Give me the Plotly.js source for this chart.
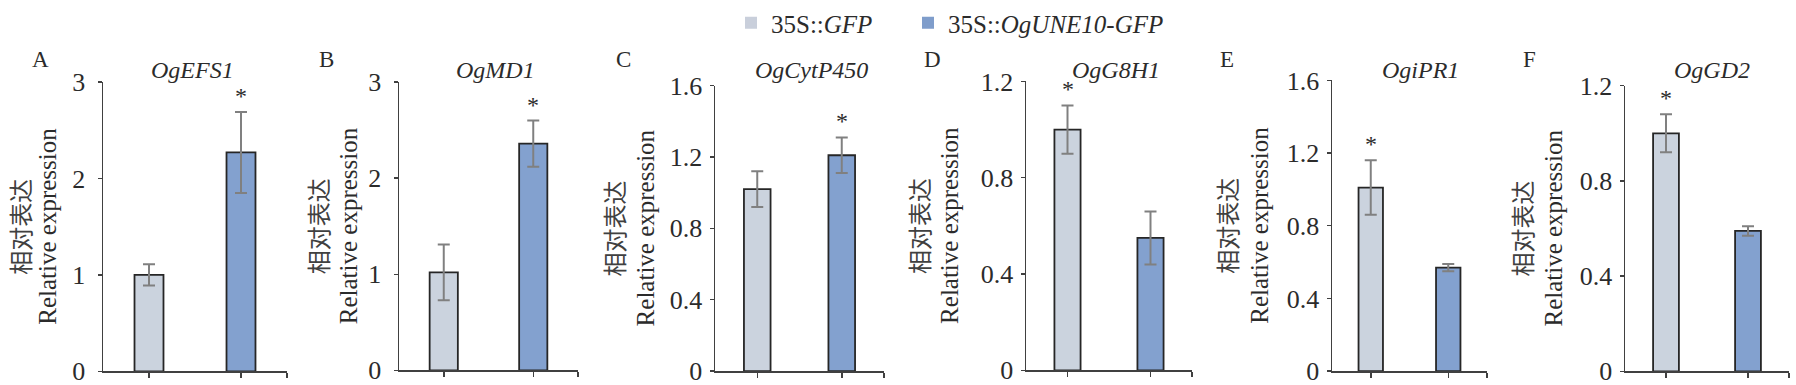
<!DOCTYPE html>
<html>
<head>
<meta charset="utf-8">
<script src="https://cdn.plot.ly/plotly-3.0.1.min.js"></script>
<style>
  html, body { margin: 0; padding: 0; background: #ffffff; }
  #chart { width: 1796px; height: 385px; }
</style>
</head>
<body>
<div id="chart"></div>
<script>
// ---------------- data ----------------
const panelLetters = ['A', 'B', 'C', 'D', 'E', 'F'];
const genes = ['OgEFS1', 'OgMD1', 'OgCytP450', 'OgG8H1', 'OgiPR1', 'OgGD2'];
const groupNames = ['35S::<i>GFP</i>', '35S::<i>OgUNE10-GFP</i>'];
const gfpMean = [1.00, 1.02, 1.02, 1.00, 1.01, 1.00];
const gfpErr  = [0.11, 0.29, 0.10, 0.10, 0.15, 0.08];
const oeMean  = [2.27, 2.36, 1.21, 0.55, 0.57, 0.59];
const oeErr   = [0.42, 0.24, 0.10, 0.11, 0.02, 0.02];
const yMax    = [3, 3, 1.6, 1.2, 1.6, 1.2];
const yStep   = [1, 1, 0.4, 0.4, 0.4, 0.4];
const starGroup = [1, 1, 1, 0, 0, 0];   // which bar carries the significance mark
const yTitleZh = '相对表达';
const yTitleEn = 'Relative expression';

// ---------------- style / layout (pixels) ----------------
const W = 1796, H = 385;
const barColors = ['#cbd3de', '#83a1cf'];
const legendColors = ['#c9cfdb', '#7f9dcb'];
const serif = '"Liberation Serif", "Times New Roman", serif';
const cjk = '"Noto Sans CJK SC", sans-serif';
const txt = '#2b2b2b';
// plot boxes [left, right, top, bottom]
const boxes = [[103, 287, 74, 371], [399, 578, 74, 370], [715, 884, 77.7, 370.7],
               [1026, 1192, 73.3, 370], [1332, 1487, 72.3, 370.7], [1625, 1789, 77.7, 371]];
const titleX  = [192, 496, 811, 1116, 1420, 1712];
const letterX = [40, 326, 623, 932, 1227, 1529];
const zhX = [20, 317, 613, 919, 1227, 1522];
const enX = [48, 348, 645, 950, 1260, 1554];
const standoff = [7, 7, 2, 2, 2, 2];
const legendX = [731, 908];

const px = x => x / W;
const py = y => 1 - y / H;

const data = [];
const layout = {
  width: W, height: H, autosize: false,
  margin: {l: 0, r: 0, t: 0, b: 0, pad: 0},
  paper_bgcolor: '#ffffff', plot_bgcolor: 'rgba(0,0,0,0)',
  barmode: 'overlay',
  showlegend: true,
  annotations: []
};
['legend', 'legend2'].forEach((lg, g) => {
  layout[lg] = {
    orientation: 'h', x: px(legendX[g]), xanchor: 'left', y: py(13), yanchor: 'middle',
    font: {family: serif, size: 25, color: txt}, bgcolor: 'rgba(0,0,0,0)',
    itemwidth: 30, borderwidth: 0
  };
});

const means = [gfpMean, oeMean];
const errs = [gfpErr, oeErr];

genes.forEach((gene, i) => {
  const k = i + 1;
  const xa = 'x' + (k === 1 ? '' : k), ya = 'y' + (k === 1 ? '' : k);
  const b = boxes[i];
  [0, 1].forEach(g => {
    data.push({
      type: 'bar', xaxis: xa, yaxis: ya,
      x: [g], y: [means[g][i]], width: 0.315,
      name: groupNames[g], showlegend: false, hoverinfo: 'skip',
      marker: {color: barColors[g], line: {color: '#262626', width: 1.8}},
      error_y: {type: 'data', array: [errs[g][i]], visible: true, color: '#808080', thickness: 2, width: 6}
    });
  });
  layout['xaxis' + (k === 1 ? '' : k)] = {
    domain: [px(b[0]), px(b[1])], anchor: ya, type: 'linear', range: [-0.5, 1.5],
    showgrid: false, zeroline: false, showline: true, linecolor: '#404040', linewidth: 1.5,
    ticks: 'outside', ticklen: 5, tickwidth: 1.5, tickcolor: '#404040',
    tickmode: 'array', tickvals: [0, 1, 1.5], showticklabels: false, fixedrange: true
  };
  layout['yaxis' + (k === 1 ? '' : k)] = {
    domain: [py(b[3]), py(b[2])], anchor: xa, range: [0, yMax[i]],
    tickmode: 'linear', tick0: 0, dtick: yStep[i],
    showgrid: false, zeroline: false, showline: true, linecolor: '#404040', linewidth: 1.5,
    ticks: 'outside', ticklen: 4, tickwidth: 1.5, tickcolor: '#404040',
    ticklabelstandoff: standoff[i], ticklabeloverflow: 'allow',
    tickfont: {family: serif, size: 26, color: txt}, fixedrange: true
  };
  const g = starGroup[i];
  layout.annotations.push({
    xref: xa, yref: ya, x: g, y: means[g][i] + errs[g][i], text: '*',
    showarrow: false, yanchor: 'bottom', yshift: 1,
    font: {family: serif, size: 24, color: txt}
  });
  layout.annotations.push({
    xref: 'paper', yref: 'paper', x: px(titleX[i]), y: py(62), xanchor: 'center', yanchor: 'middle',
    text: '<i>' + gene + '</i>', showarrow: false, font: {family: serif, size: 24, color: txt}
  });
  layout.annotations.push({
    xref: 'paper', yref: 'paper', x: px(letterX[i]), y: py(51), xanchor: 'center', yanchor: 'middle',
    text: panelLetters[i], showarrow: false, font: {family: serif, size: 23, color: txt}
  });
  const yc = py((b[2] + b[3]) / 2);
  layout.annotations.push({
    xref: 'paper', yref: 'paper', x: px(zhX[i]), y: yc, xanchor: 'center', yanchor: 'middle',
    text: yTitleZh, textangle: -90, showarrow: false, font: {family: cjk, size: 24, color: '#404040'}
  });
  layout.annotations.push({
    xref: 'paper', yref: 'paper', x: px(enX[i]), y: yc, xanchor: 'center', yanchor: 'middle',
    text: yTitleEn, textangle: -90, showarrow: false, font: {family: serif, size: 25, color: txt}
  });
});

// legend-only entries (square swatches without outline), one legend box per group
[0, 1].forEach(g => {
  data.push({
    type: 'scatter', mode: 'markers', x: [null], y: [null], xaxis: 'x', yaxis: 'y',
    name: groupNames[g], showlegend: true, hoverinfo: 'skip',
    legend: g === 0 ? 'legend' : 'legend2',
    marker: {symbol: 'square', size: 12, color: legendColors[g]}
  });
});

Plotly.newPlot('chart', data, layout, {displayModeBar: false, staticPlot: true});
</script>
</body>
</html>
